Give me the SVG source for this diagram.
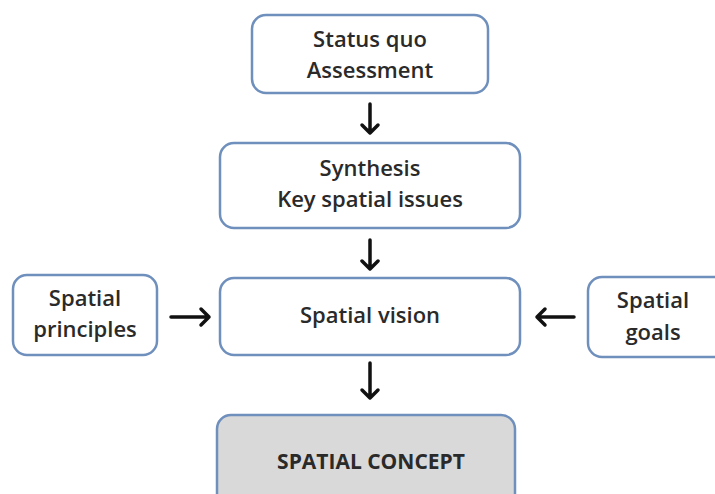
<svg xmlns="http://www.w3.org/2000/svg" width="715" height="494" viewBox="0 0 715 494">
<style>
.box{fill:#ffffff;stroke:#6f8fbd;stroke-width:2.5}
.gray{fill:#d9d9d9}
.t{font-family:"Open Sans","Liberation Sans",sans-serif;font-size:22px;font-weight:600;fill:#2a2a2a;text-anchor:middle}
.b{font-weight:bold;font-size:21px}
.ar{stroke:#111;stroke-width:3.5;fill:none;stroke-linecap:round;stroke-linejoin:round}
</style>
<rect width="715" height="494" fill="#ffffff"/>
<g id="status">
<rect class="box" x="252" y="15" width="236" height="78" rx="14"/>
<text class="t" x="370" y="47">Status quo</text>
<text class="t" x="370" y="78">Assessment</text>
</g>
<g id="synthesis">
<rect class="box" x="220" y="143" width="300" height="85" rx="14"/>
<text class="t" x="370" y="176">Synthesis</text>
<text class="t" x="370" y="207">Key spatial issues</text>
</g>
<g id="vision">
<rect class="box" x="220" y="278" width="300" height="77" rx="14"/>
<text class="t" x="370" y="323">Spatial vision</text>
</g>
<g id="principles">
<rect class="box" x="13" y="275" width="144" height="80" rx="14"/>
<text class="t" x="85" y="306">Spatial</text>
<text class="t" x="85" y="337">principles</text>
</g>
<g id="goals">
<rect class="box" x="588" y="277" width="140" height="80" rx="14"/>
<text class="t" x="653" y="308">Spatial</text>
<text class="t" x="653" y="340">goals</text>
</g>
<g id="concept">
<rect class="box gray" x="217" y="415" width="298" height="100" rx="14"/>
<text class="t b" x="371" y="469">SPATIAL CONCEPT</text>
</g>
<g id="connectors">
<path class="ar" d="M370 104V133M362 125L370 133L378 125"/>
<path class="ar" d="M370 240V269M362 261L370 269L378 261"/>
<path class="ar" d="M370 363V398M362 390L370 398L378 390"/>
<path class="ar" d="M171 317H209M201 309L209 317L201 325"/>
<path class="ar" d="M574 317H537M545 309L537 317L545 325"/>
</g>
</svg>
